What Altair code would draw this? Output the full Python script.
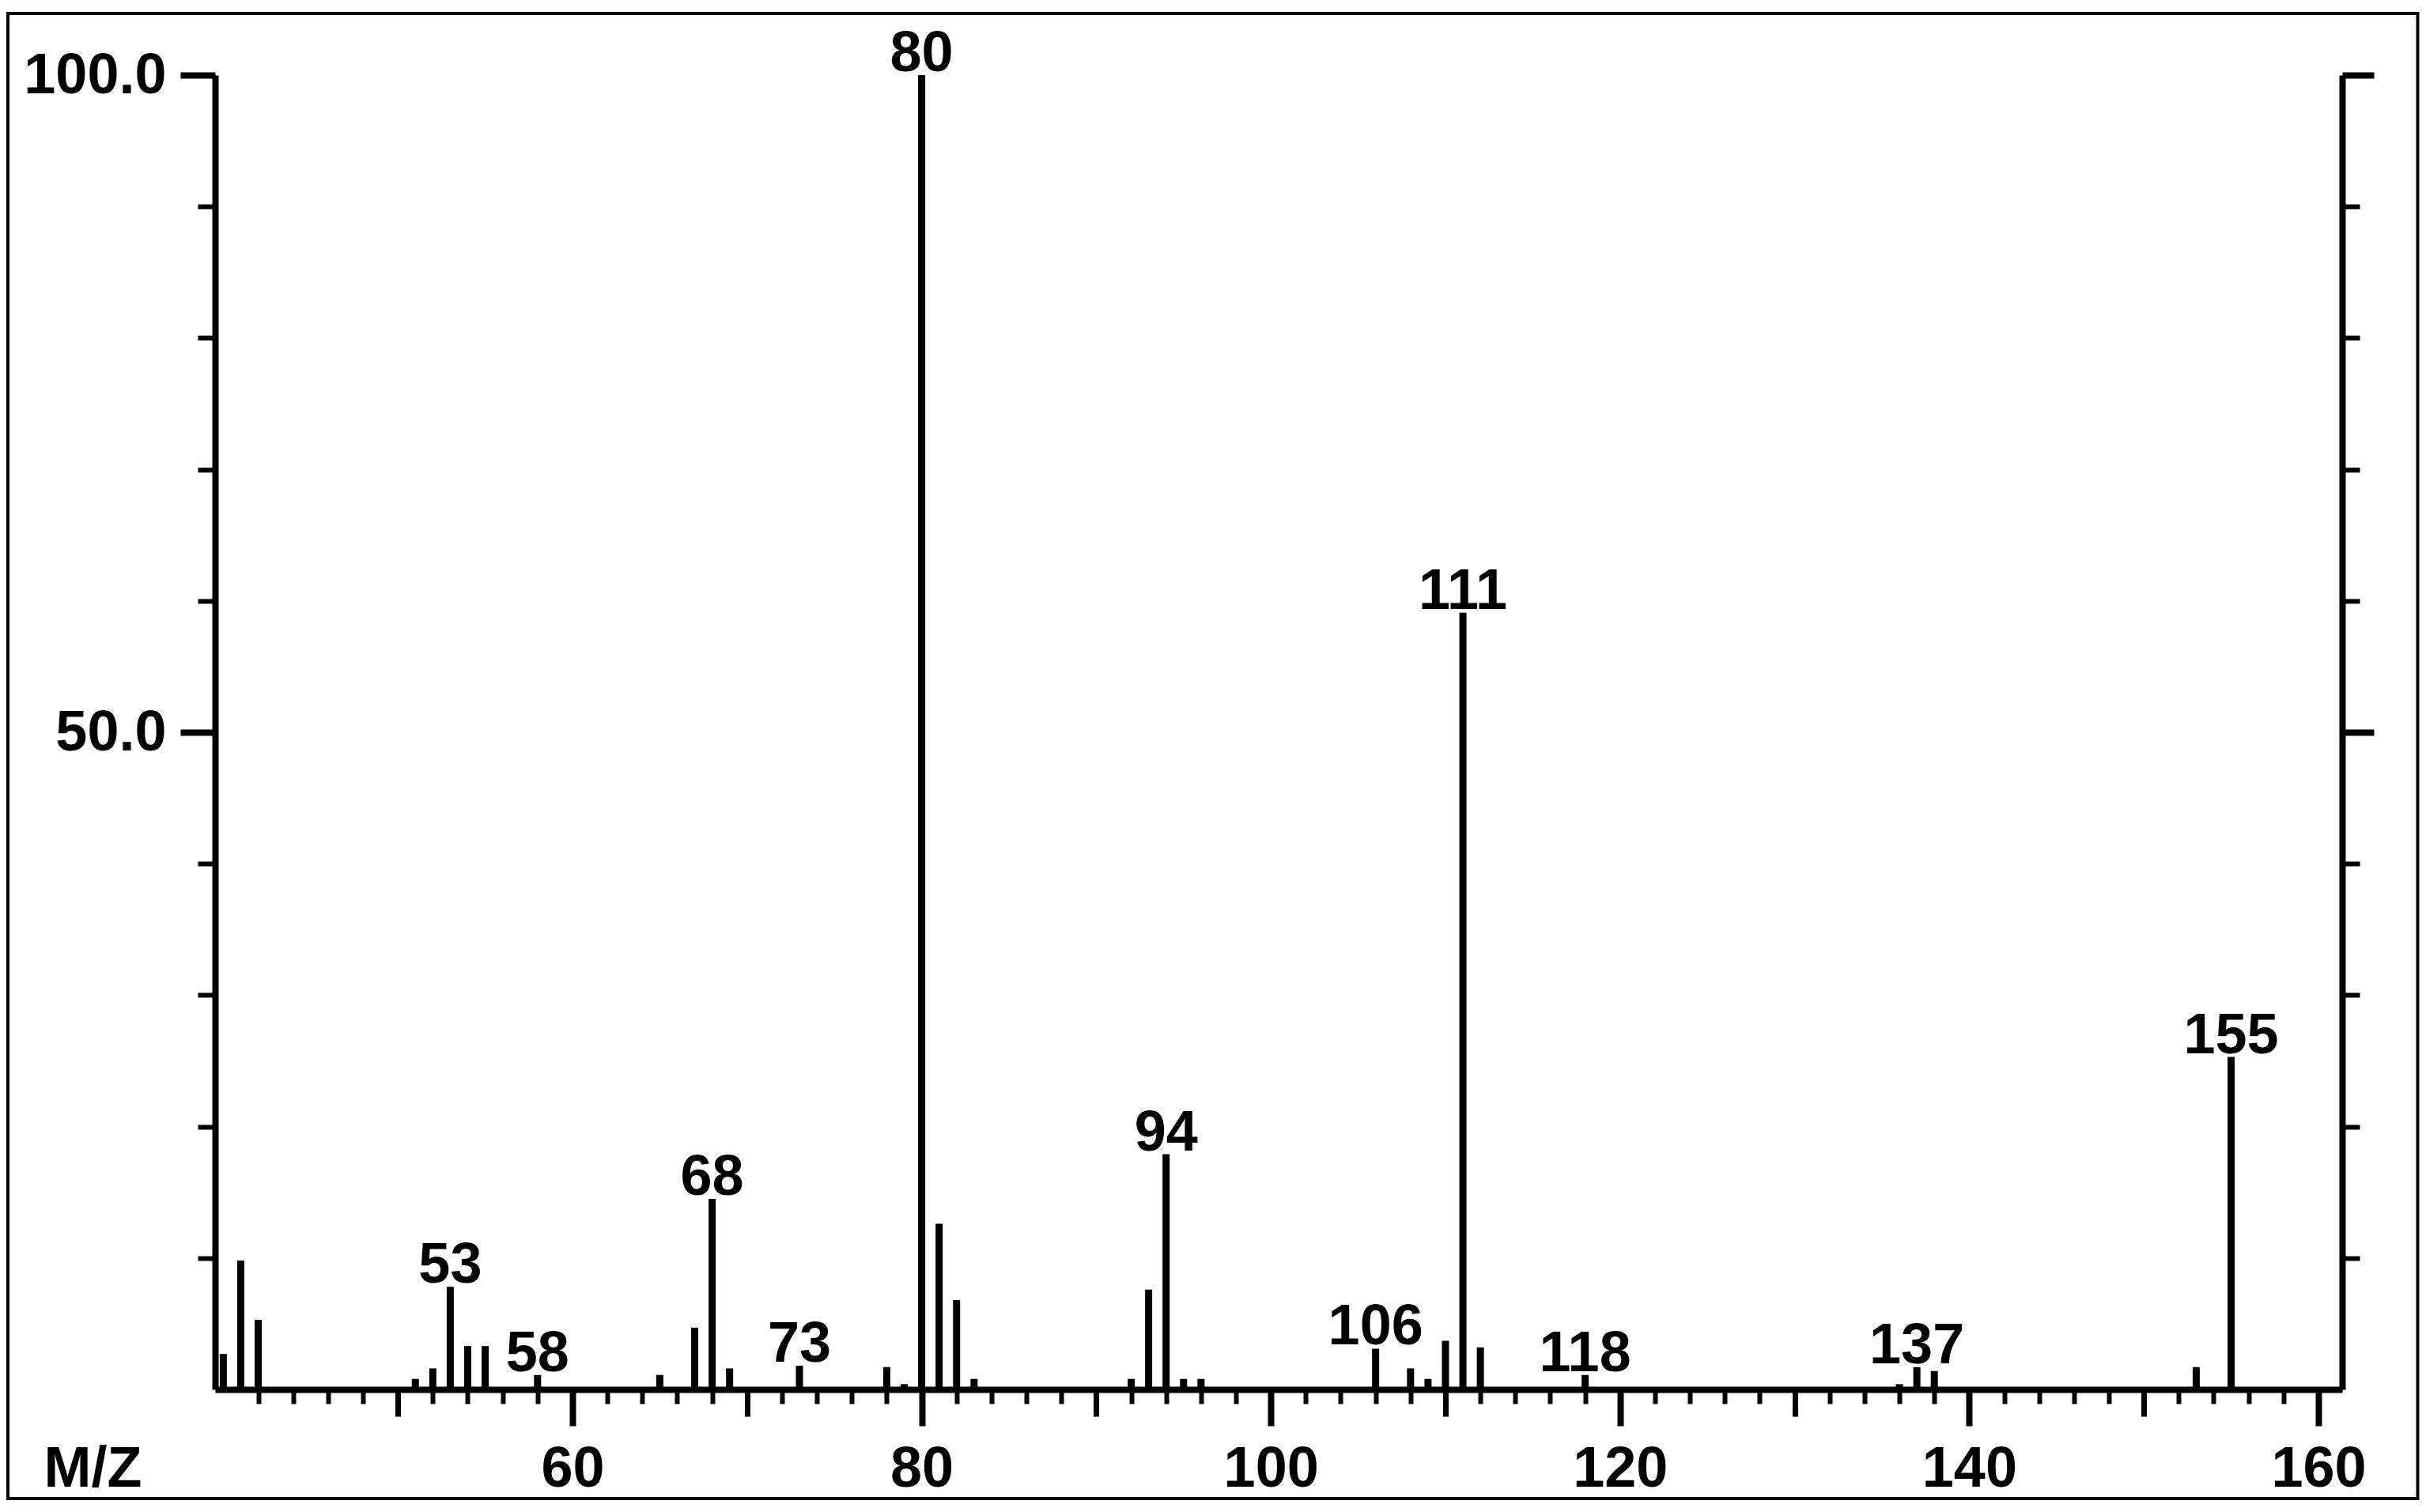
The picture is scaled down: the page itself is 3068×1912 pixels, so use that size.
import altair as alt
import pandas as pd

# ---- data ----
MZ = [40, 41, 42, 51, 52, 53, 54, 55, 58, 65, 67, 68, 69, 73, 78, 79, 80, 81, 82, 83,
      92, 93, 94, 95, 96, 106, 108, 109, 110, 111, 112, 118, 136, 137, 138, 153, 155]
REL = [2.7, 9.8, 5.3, 0.8, 1.6, 7.8, 3.3, 3.3, 1.1, 1.1, 4.7, 14.5, 1.6, 1.8, 1.7, 0.4, 100, 12.6, 6.8, 0.8,
       0.8, 7.6, 17.9, 0.8, 0.8, 3.1, 1.6, 0.8, 3.7, 59.1, 3.2, 1.1, 0.4, 1.7, 1.4, 1.7, 25.3]
LABELED = [53, 58, 68, 73, 80, 94, 106, 111, 118, 137, 155]

X_MAJOR = [60, 80, 100, 120, 140, 160]
X_MID = [50, 70, 90, 110, 130, 150]
X_MINOR = [m for m in range(42, 162, 2) if m % 10 != 0]
Y_MAJOR = [50, 100]
Y_MINOR = [10, 20, 30, 40, 60, 70, 80, 90]
X_DOMAIN = [39.53, 161.36]
Y_DOMAIN = [0, 100]

FONT = "Liberation Sans"
FS = 72

df = pd.DataFrame({"mz": MZ, "rel": REL})
df_lab = df[df["mz"].isin(LABELED)].copy()
df_lab["lab"] = df_lab["mz"].astype(str)

xs = alt.Scale(domain=X_DOMAIN, nice=False, zero=False)
ys = alt.Scale(domain=Y_DOMAIN, nice=False, zero=False)

common = dict(grid=False, tickColor="black", domainColor="black",
              labelColor="black", titleColor="black")

bars = alt.Chart(df).mark_rule(color="black", strokeWidth=9, strokeCap="butt").encode(
    x=alt.X("mz:Q", scale=xs, axis=alt.Axis(
        orient="bottom", values=X_MAJOR, tickSize=46, tickWidth=8, domainWidth=8,
        labelFont=FONT, labelFontSize=FS, labelFontWeight="bold", labelPadding=19,
        labelFlush=False, labelOverlap=False, labelLimit=400, format="d",
        title="M/Z", titleFont=FONT, titleFontSize=FS, titleFontWeight="bold",
        titleX=-217, titleY=122, titleAlign="left", titleBaseline="alphabetic", **common)),
    y=alt.Y("rel:Q", scale=ys, axis=alt.Axis(
        orient="left", values=Y_MAJOR, tickSize=44, tickWidth=8, domainWidth=8,
        labelFont=FONT, labelFontSize=FS, labelFontWeight="bold", labelPadding=18,
        labelFlush=False, labelOverlap=False, labelLimit=400, format=".1f",
        title="", **common)),
    y2=alt.datum(0),
)

labels = alt.Chart(df_lab).mark_text(
    font=FONT, fontSize=FS, fontWeight="bold", baseline="alphabetic", dy=-5, color="black"
).encode(
    x=alt.X("mz:Q", scale=xs, axis=alt.Axis(
        orient="bottom", values=X_MID, tickSize=34, tickWidth=7, domain=False,
        labels=False, title="", **common)),
    y=alt.Y("rel:Q", scale=ys, axis=alt.Axis(
        orient="left", values=Y_MINOR, tickSize=22, tickWidth=6, domain=False,
        labels=False, title="", **common)),
    text="lab:N",
)

ghost1 = alt.Chart(df).mark_point(opacity=0).encode(
    x=alt.X("mz:Q", scale=xs, axis=alt.Axis(
        orient="bottom", values=X_MINOR, tickSize=18, tickWidth=6, domain=False,
        labels=False, title="", **common)),
    y=alt.Y("rel:Q", scale=ys, axis=alt.Axis(
        orient="right", values=Y_MAJOR, tickSize=40, tickWidth=8, domainWidth=8,
        labels=False, title="", **common)),
)

ghost2 = alt.Chart(df).mark_point(opacity=0).encode(
    x=alt.X("mz:Q", scale=xs, axis=None),
    y=alt.Y("rel:Q", scale=ys, axis=alt.Axis(
        orient="right", values=Y_MINOR, tickSize=22, tickWidth=6, domain=False,
        labels=False, title="", **common)),
)

frame = alt.Chart(pd.DataFrame({"a": [0]})).mark_rect(
    fillOpacity=0, stroke="black", strokeWidth=4
).encode(
    x=alt.value(-262), x2=alt.value(2785.5), y=alt.value(-78), y2=alt.value(1800)
)

chart = alt.layer(frame, bars, labels, ghost1, ghost2).resolve_axis(
    x="independent", y="independent"
).properties(
    width=2690, height=1662,
    autosize=alt.AutoSizeParams(type="none"),
    padding={"left": 264, "top": 87, "right": 98, "bottom": 141},
    background="white",
).configure_view(strokeWidth=0)

chart.save("out.html", embed_options={"renderer": "svg", "actions": False})
